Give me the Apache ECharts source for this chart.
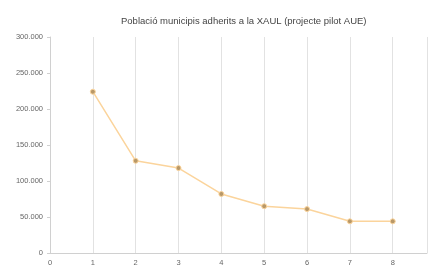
<!DOCTYPE html>
<html><head><meta charset="utf-8">
<script src="https://cdn.jsdelivr.net/npm/echarts@6/dist/echarts.min.js"></script>
<style>html,body{margin:0;padding:0;background:#fff}#c{width:430px;height:268px}</style>
</head><body><div id="c"></div>
<script>
const titleText = 'Població municipis adherits a la XAUL (projecte pilot AUE)';
const xValues = [1, 2, 3, 4, 5, 6, 7, 8];
const populations = [224000, 128000, 118000, 82000, 65000, 61000, 44000, 44000];
const yTicks = [0, 50000, 100000, 150000, 200000, 250000, 300000];

const chart = echarts.init(document.getElementById('c'));
chart.setOption({
  animation: false,
  title: {text: titleText, left: 116, top: 11,
    textStyle: {fontSize: 9.5, fontWeight: 'normal', color: '#444', fontFamily: 'Liberation Sans'}},
  grid: {left: 50, right: 3, top: 37, bottom: 15},
  xAxis: {type: 'value', min: 0, max: 8.8, interval: 1,
    axisLine: {lineStyle: {color: '#d0d0d0'}}, axisTick: {show: false},
    axisLabel: {fontSize: 7.5, color: '#666', margin: 6,
      formatter: v => Number.isInteger(v) ? String(v) : ''},
    splitLine: {show: true, lineStyle: {color: '#e2e2e2'}}},
  yAxis: {type: 'value', min: yTicks[0], max: yTicks[yTicks.length-1], interval: 50000,
    axisLine: {show: true, lineStyle: {color: '#d0d0d0'}}, axisTick: {show: true, length: 3, lineStyle: {color: '#d0d0d0'}},
    axisLabel: {fontSize: 7.5, color: '#666', margin: 7,
      formatter: v => v.toString().replace(/\B(?=(\d{3})+(?!\d))/g, '.')},
    splitLine: {show: false}},
  series: [{type: 'line', data: xValues.map((x, i) => [x, populations[i]]),
    symbol: 'circle', symbolSize: 5,
    lineStyle: {color: '#fbd49c', width: 1.5},
    itemStyle: {color: '#b89868', borderColor: '#fbd49c', borderWidth: 1}}]
});
</script></body></html>
